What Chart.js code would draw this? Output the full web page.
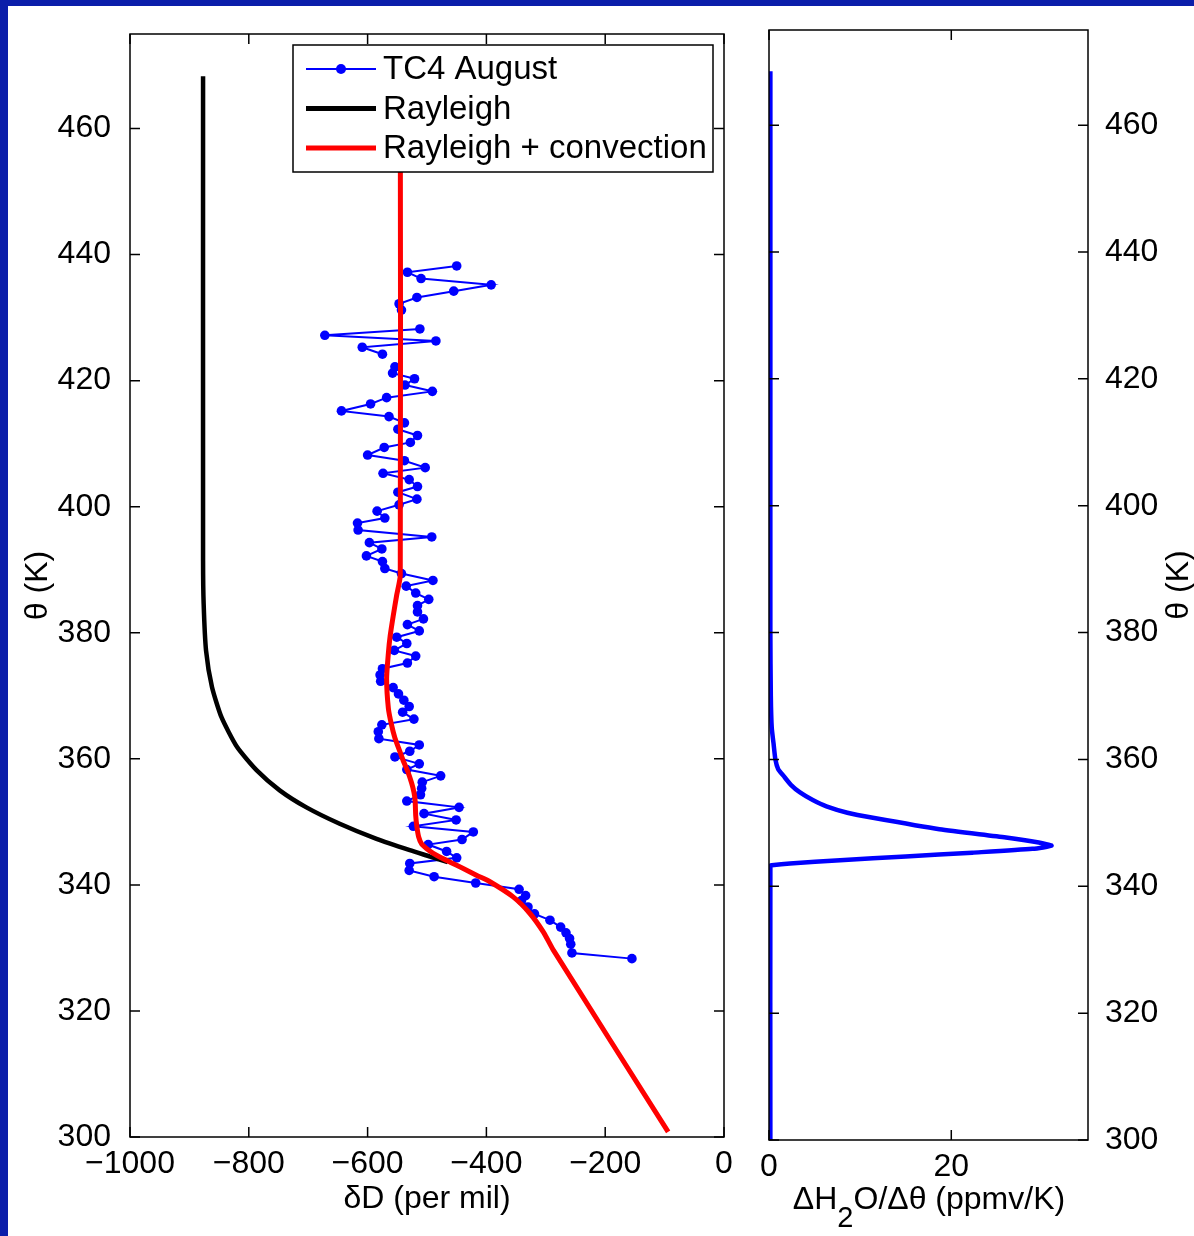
<!DOCTYPE html>
<html><head><meta charset="utf-8">
<script src="https://cdn.jsdelivr.net/npm/chart.js@4.4.0/dist/chart.umd.min.js"></script>
<style>
html,body{margin:0;padding:0;background:#fff;}
#page{position:relative;width:1194px;height:1236px;overflow:hidden;background:#fff;}
#bTop{position:absolute;left:0;top:0;width:1194px;height:6px;background:#0B1EAA;}
#bLeft{position:absolute;left:0;top:0;width:8px;height:1236px;background:#0B1EAA;}
#cA{position:absolute;left:0;top:0;}
#cB{position:absolute;left:745px;top:0;}
</style></head><body>
<div id="page">
<div id="bTop"></div><div id="bLeft"></div>
<canvas id="cA" width="745" height="1236"></canvas>
<canvas id="cB" width="449" height="1236"></canvas>
</div>
<script>
// ---------- data ----------
const tc4Theta = [438.2,437.2,436.2,435.2,434.2,433.2,432.2,431.2,430.2,428.2,427.2,426.3,425.3,424.2,423.2,422.2,421.2,420.3,419.3,418.3,417.3,416.3,415.2,414.3,413.3,412.3,411.3,410.2,409.4,408.2,407.3,406.2,405.3,404.3,403.2,402.3,401.2,400.3,399.3,398.2,397.4,396.3,395.2,394.3,393.3,392.2,391.3,390.2,389.4,388.3,387.4,386.3,385.3,384.3,383.3,382.2,381.3,380.3,379.3,378.3,377.2,376.3,375.2,374.3,373.3,372.3,371.3,370.3,369.3,368.3,367.4,366.3,365.4,364.3,363.2,362.2,361.2,360.3,359.2,358.3,357.3,356.3,355.3,354.3,353.3,352.3,351.3,350.3,349.3,348.4,347.2,346.4,345.3,344.3,343.4,342.3,341.3,340.3,339.3,338.3,337.5,336.5,335.4,334.4,333.3,332.4,331.5,330.6,329.2,328.3];
const tc4DD = [-450,-533,-510,-392,-455,-517,-547,-543,null,-512,-672,-485,-609,-575,null,-554,-558,-521,-537,-491,-568,-595,-644,-564,-538,-549,-516,-528,-572,-600,-538,-503,-574,-530,-516,-549,-517,-547,-584,-571,-617,-616,-492,-597,-576,-602,-575,-571,-543,-490,-535,-519,-497,-516,-516,-506,-533,-513,-551,-534,-555,-519,-533,-575,-579,-578,-557,-548,-539,-530,-541,-522,-576,-582,-581,-513,-529,-554,-513,-534,-477,-508,-509,-511,-534,-446,-505,-451,-523,-422,-441,-498,-467,-450,-529,-530,-488,-418,-345,-334,-341,-330,-319,-293,-275,-266,-260,-258,-256,-155];

const rayTheta = [468.3,391.4,384.6,377.2,371.4,366.6,361.9,358.2,355.0,352.3,349.7,347.3,345.5,344.5,343.6];
const rayDD    = [-877,-877,-876,-872,-862,-846,-820,-787,-748,-703,-647,-585,-529,-495,-465];

const convTheta = [468.0,389.1,386.0,382.6,379.5,376.8,372.7,368.0,365.5,363.3,361.5,359.7,357.9,356.2,354.7,353.4,351.0,349.2,347.6,346.5,345.5,344.7,343.6,342.6,341.5,340.5,338.1,335.5,332.5,329.6,300.8];
const convDD    = [-545,-545,-551,-557,-562,-565,-568,-565,-560,-554,-547,-540,-532,-526,-522,-520,-519,-517,-514,-509,-497,-484,-461,-439,-416,-394,-355,-327,-304,-287,-94];

const rateTheta = [468.5,420,380,370,365,362.5,360.0,358.5,357.4,356.0,354.8,353.6,352.6,351.6,350.8,349.0,347.7,346.9,346.4,345.9,345.3,344.7,344.1,343.6,343.3,343.2,300];
const rateVal   = [0.15,0.15,0.15,0.2,0.3,0.5,0.7,1.0,1.6,2.4,3.4,4.8,6.3,8.6,11.4,18.7,26.0,29.6,31.0,28.9,22.3,15.0,7.8,2.3,0.3,0.15,0.15];

const dDTicks = [-1000,-800,-600,-400,-200,0];
const thetaTicks = [300,320,340,360,380,400,420,440,460];
const rateTicks = [0,20];

const seriesLabels = ['TC4 August','Rayleigh','Rayleigh + convection'];
const FONT = "'Liberation Sans', Arial, Helvetica, sans-serif";

function pts(ys, xs){ return ys.map((t,i)=>({x: xs[i], y: t})); }
const fmt = v => v < 0 ? '\u2212' + Math.abs(v) : String(v);

const framePlugin = {
  id: 'frame',
  afterDatasetsDraw(chart){
    const ctx = chart.ctx, a = chart.chartArea, L = 10;
    ctx.save();
    ctx.strokeStyle = '#000'; ctx.lineWidth = 1.5;
    ctx.strokeRect(a.left, a.top, a.right - a.left, a.bottom - a.top);
    const xs = chart.scales.x, ys = chart.scales.y;
    ctx.beginPath();
    xs.ticks.forEach(t => { const p = xs.getPixelForValue(t.value);
      ctx.moveTo(p, a.bottom); ctx.lineTo(p, a.bottom - L);
      ctx.moveTo(p, a.top); ctx.lineTo(p, a.top + L); });
    ys.ticks.forEach(t => { const p = ys.getPixelForValue(t.value);
      ctx.moveTo(a.left, p); ctx.lineTo(a.left + L, p);
      ctx.moveTo(a.right, p); ctx.lineTo(a.right - L, p); });
    ctx.stroke();
    ctx.restore();
  }
};

const legendPlugin = {
  id: 'boxLegend',
  afterDraw(chart){
    const ctx = chart.ctx;
    const bx = 293, by = 45, bw = 420, bh = 127;
    ctx.save();
    ctx.fillStyle = '#fff'; ctx.fillRect(bx, by, bw, bh);
    ctx.strokeStyle = '#000'; ctx.lineWidth = 1.5; ctx.strokeRect(bx, by, bw, bh);
    const rows = [
      {label: seriesLabels[0], color: '#0000ff', w: 2, dot: true, y: 69},
      {label: seriesLabels[1], color: '#000000', w: 5, dot: false, y: 108.5},
      {label: seriesLabels[2], color: '#ff0000', w: 5, dot: false, y: 148}
    ];
    rows.forEach(r => {
      ctx.strokeStyle = r.color; ctx.lineWidth = r.w;
      ctx.beginPath(); ctx.moveTo(306, r.y); ctx.lineTo(376, r.y); ctx.stroke();
      if (r.dot){ ctx.fillStyle = r.color; ctx.beginPath(); ctx.arc(341, r.y, 5, 0, Math.PI*2); ctx.fill(); }
      ctx.fillStyle = '#000'; ctx.font = '33px ' + FONT; ctx.textBaseline = 'middle'; ctx.textAlign = 'left';
      ctx.fillText(r.label, 383, r.y + 1);
    });
    ctx.restore();
  }
};

const rightTitles = {
  id: 'rightTitles',
  afterDraw(chart){
    const ctx = chart.ctx;
    ctx.save();
    ctx.fillStyle = '#000';
    ctx.font = '32px ' + FONT;
    ctx.textBaseline = 'middle';
    ctx.save();
    ctx.translate(434, 585);
    ctx.rotate(-Math.PI/2);
    ctx.textAlign = 'center';
    ctx.fillText('\u03b8 (K)', 0, 0);
    ctx.restore();
    const p1 = '\u0394H', p2 = '2', p3 = 'O/\u0394\u03b8 (ppmv/K)';
    ctx.font = '32px ' + FONT;
    const w1 = ctx.measureText(p1).width, w3 = ctx.measureText(p3).width;
    ctx.font = '29px ' + FONT;
    const w2 = ctx.measureText(p2).width;
    const total = w1 + w2 + w3;
    let x = 184 - total/2; const y = 1200;
    ctx.textAlign = 'left';
    ctx.font = '32px ' + FONT; ctx.fillText(p1, x, y); x += w1;
    ctx.font = '29px ' + FONT; ctx.fillText(p2, x, y + 19); x += w2;
    ctx.font = '32px ' + FONT; ctx.fillText(p3, x, y);
    ctx.restore();
  }
};

const tickFont = {family: FONT, size: 32};

new Chart(document.getElementById('cA'), {
  type: 'scatter',
  data: { datasets: [
    { label: seriesLabels[2], data: pts(convTheta, convDD), showLine: true, borderColor: '#ff0000', borderWidth: 5, pointRadius: 0, tension: 0.2, order: 0 },
    { label: seriesLabels[1], data: pts(rayTheta, rayDD), showLine: true, borderColor: '#000000', borderWidth: 4.5, pointRadius: 0, tension: 0.2, order: 1 },
    { label: seriesLabels[0], data: pts(tc4Theta, tc4DD), showLine: true, spanGaps: false, borderColor: '#0000ff', borderWidth: 2, pointRadius: 4.8, pointBackgroundColor: '#0000ff', pointBorderWidth: 0, tension: 0, order: 2 }
  ]},
  options: {
    responsive: false, devicePixelRatio: 1, animation: false,
    layout: { padding: { left: 0, top: 34, right: 21, bottom: 0 } },
    plugins: { legend: { display: false }, tooltip: { enabled: false } },
    scales: {
      x: { type: 'linear', position: 'bottom', min: -1000, max: 0,
        grid: { display: false }, border: { display: false },
        afterBuildTicks: s => { s.ticks = dDTicks.map(v => ({value: v})); },
        afterFit: s => { s.height = 99; },
        ticks: { font: tickFont, color: '#000', padding: 0, maxRotation: 0, autoSkip: false, callback: fmt },
        title: { display: true, text: '\u03b4D (per mil)', font: tickFont, color: '#000', padding: { top: 0, bottom: 18 } }
      },
      y: { type: 'linear', position: 'left', min: 300, max: 475,
        grid: { display: false }, border: { display: false },
        afterBuildTicks: s => { s.ticks = thetaTicks.map(v => ({value: v})); },
        afterFit: s => { s.width = 130; },
        ticks: { font: tickFont, color: '#000', padding: 11, autoSkip: false, callback: fmt },
        title: { display: true, text: '\u03b8 (K)', font: tickFont, color: '#000', padding: { top: 19, bottom: 0 } }
      }
    }
  },
  plugins: [framePlugin, legendPlugin]
});

new Chart(document.getElementById('cB'), {
  type: 'scatter',
  data: { datasets: [
    { label: '\u0394H2O/\u0394\u03b8', data: pts(rateTheta, rateVal), showLine: true, borderColor: '#0000ff', borderWidth: 4.5, pointRadius: 0, tension: 0.2 }
  ]},
  options: {
    responsive: false, devicePixelRatio: 1, animation: false,
    layout: { padding: { left: 24, top: 30, right: 0, bottom: 0 } },
    plugins: { legend: { display: false }, tooltip: { enabled: false } },
    scales: {
      x: { type: 'linear', position: 'bottom', min: 0, max: 35,
        grid: { display: false }, border: { display: false },
        afterBuildTicks: s => { s.ticks = rateTicks.map(v => ({value: v})); },
        afterFit: s => { s.height = 96; },
        ticks: { font: tickFont, color: '#000', padding: 0, maxRotation: 0, autoSkip: false, callback: fmt }
      },
      y: { type: 'linear', position: 'right', min: 300, max: 475,
        grid: { display: false }, border: { display: false },
        afterBuildTicks: s => { s.ticks = thetaTicks.map(v => ({value: v})); },
        afterFit: s => { s.width = 106; },
        ticks: { font: tickFont, color: '#000', padding: 9, autoSkip: false, callback: fmt }
      }
    }
  },
  plugins: [framePlugin, rightTitles]
});
</script>
</body></html>
